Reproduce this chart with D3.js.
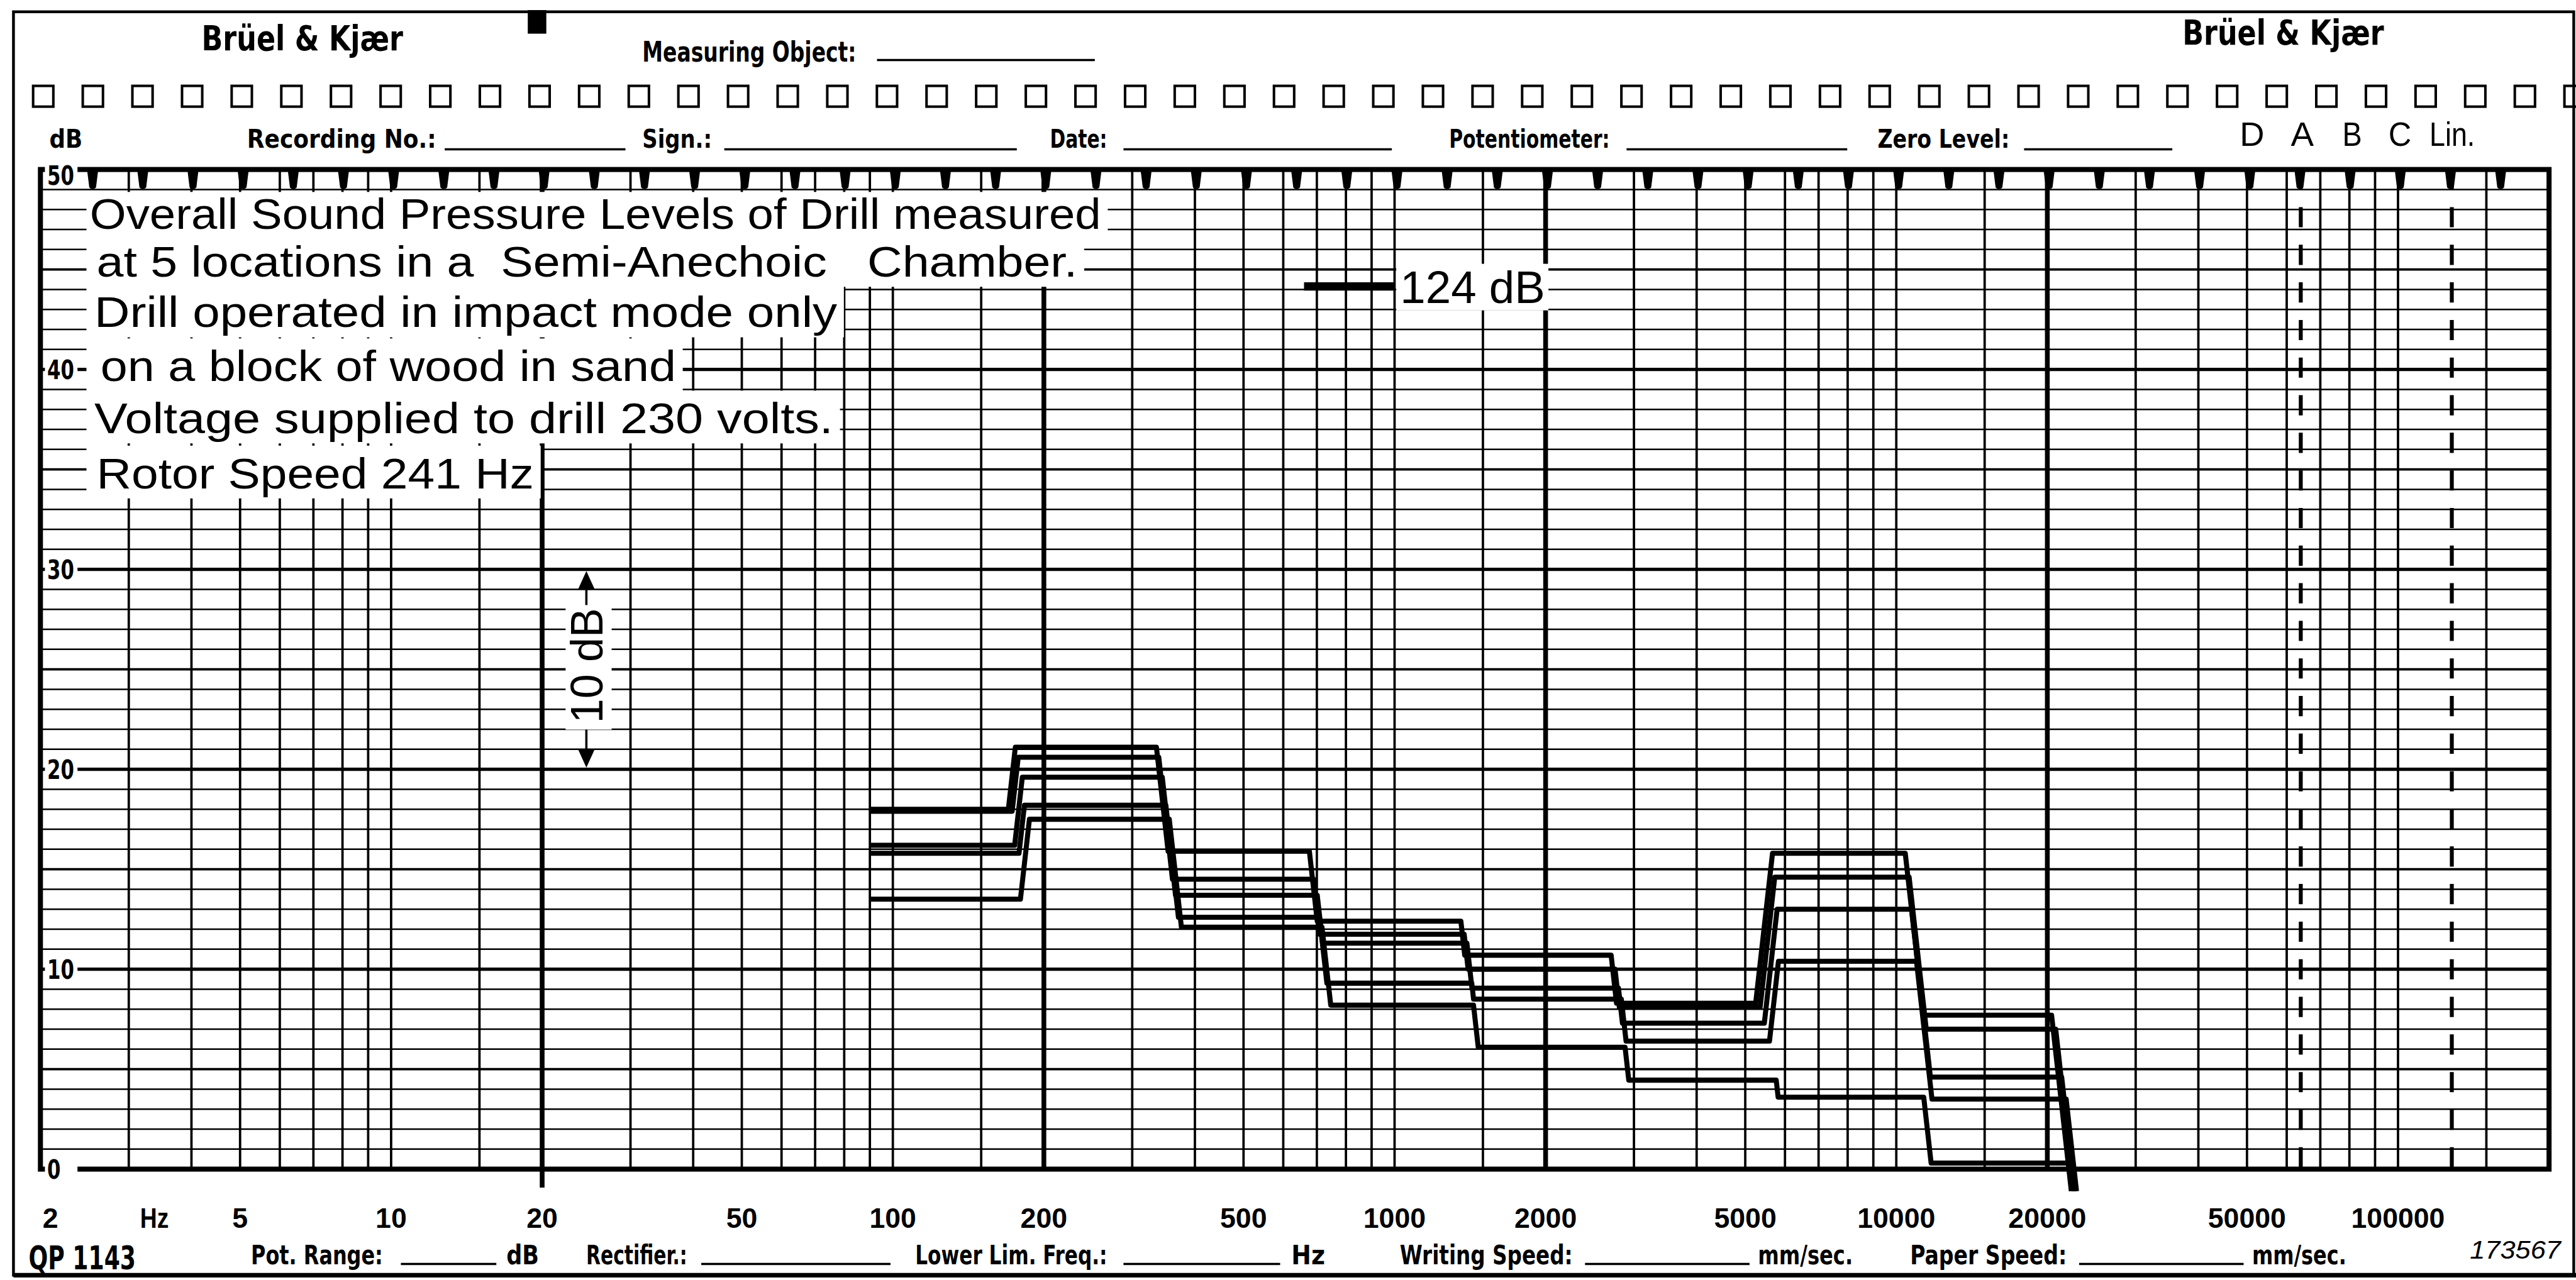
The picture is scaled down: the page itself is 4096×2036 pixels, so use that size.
<!DOCTYPE html>
<html>
<head>
<meta charset="utf-8">
<script src="https://cdn.jsdelivr.net/npm/d3@7"></script>
<style>
html, body { margin: 0; padding: 0; background: #fff; overflow: hidden; }
svg { display: block; }
</style>
</head>
<body>
<svg width="4096" height="2036"></svg>
<script>
// octave band edges (Hz) where the recorder pen steps
var bandEdges = [90, 178, 355, 710, 1410, 2820, 5620, 11200, 22000];
var endLevel = -1.1;

// band levels (dB) at the 5 measuring locations, one value per octave band
var loc1 = [18.0, 21.1, 15.9, 12.4, 10.7, 8.3, 15.8, 7.7];
var loc2 = [17.9, 20.6, 14.5, 11.75, 10.0, 8.1, 14.6, 7.0];
var loc3 = [16.2, 19.6, 13.7, 11.3, 9.05, 7.3, 13.0, 4.6];
var loc4 = [15.8, 18.2, 12.6, 9.3, 8.5, 6.4, 10.4, 3.5];
var loc5 = [13.5, 17.5, 12.1, 8.2, 6.1, 4.45, 3.6, 0.3];

var freqLabels = [2, 5, 10, 20, 50, 100, 200, 500, 1000, 2000, 5000, 10000, 20000, 50000, 100000];
var dbLabels = [0, 10, 20, 30, 40, 50];
var weightingMarks = [64000, 128000];

var notes = [
  'Overall Sound Pressure Levels of Drill measured',
  'at 5 locations in a  Semi-Anechoic   Chamber.',
  'Drill operated in impact mode only',
  'on a block of wood in sand',
  'Voltage supplied to drill 230 volts.',
  'Rotor Speed 241 Hz'
];
var refLevel = {text: '124 dB', db: 44.15, from: 660, to: 1000};
var rangeArrow = {text: '10 dB', f: 24.5, top: 30, bottom: 20};

// ---- layout (reference pixels, scaled down as a whole) ----
var S = 4096 / 4588;
var svg = d3.select('svg');
svg.append('rect').attr('width', 4096).attr('height', 2036).attr('fill', '#fff');
var g = svg.append('g').attr('transform', 'scale(' + S + ')');

var x = d3.scaleLog().domain([2, 200000]).range([72, 4540]);
var y = d3.scaleLinear().domain([0, 50]).range([2083, 302]);

var SANS = "'Liberation Sans', Arial, sans-serif";
var NARROW = "'Liberation Sans Narrow', 'DejaVu Sans Condensed', 'Liberation Sans', sans-serif";

function txt(s, px, py, size, opt) {
  opt = opt || {};
  var t = g.append('text')
    .attr('x', px).attr('y', py)
    .attr('font-family', opt.family || NARROW)
    .attr('font-size', size)
    .attr('font-weight', opt.weight || 'normal')
    .attr('text-anchor', opt.anchor || 'start')
    .attr('fill', '#000')
    .style('white-space', 'pre')
    .text(s);
  if (opt.w) t.attr('textLength', opt.w).attr('lengthAdjust', 'spacingAndGlyphs');
  if (opt.italic) t.attr('font-style', 'italic');
  return t;
}
function rule(x1, x2, y1, w) {
  g.append('line').attr('x1', x1).attr('x2', x2).attr('y1', y1).attr('y2', y1)
    .attr('stroke', '#000').attr('stroke-width', w || 4);
}
function whiteBox(x1, y1, x2, y2) {
  g.append('rect').attr('x', x1).attr('y', y1).attr('width', x2 - x1).attr('height', y2 - y1).attr('fill', '#fff');
}

// page border
g.append('rect').attr('x', 24).attr('y', 21).attr('width', 4560).attr('height', 2251)
  .attr('fill', 'none').attr('stroke', '#000').attr('stroke-width', 5);
rule(24, 4588, 2272, 8);

// header
txt('Brüel & Kjær', 359, 90, 62, {w: 359, weight: 'bold'});
txt('Brüel & Kjær', 3887, 80, 62, {w: 359, weight: 'bold'});
g.append('rect').attr('x', 940).attr('y', 18).attr('width', 33).attr('height', 42).attr('fill', '#000');
txt('Measuring Object:', 1144, 110, 50, {w: 381, weight: 'bold'});
rule(1562, 1950, 107, 4);

g.selectAll('rect.hole')
  .data(d3.range(52)).enter()
  .append('rect')
  .attr('class', 'hole')
  .attr('x', function(i) { return 59 + 88.4 * i; })
  .attr('y', 153)
  .attr('width', 36).attr('height', 37)
  .attr('fill', 'none').attr('stroke', '#000').attr('stroke-width', 4.5);

var headerFields = [['dB', 88, 59], ['Recording No.:', 440, 337], ['Sign.:', 1144, 124], ['Date:', 1870, 102],
  ['Potentiometer:', 2581, 286], ['Zero Level:', 3344, 235]];
headerFields.forEach(function(h) { txt(h[0], h[1], 263, 46, {w: h[2], weight: 'bold'}); });
[[792, 1114], [1290, 1811], [2001, 2479], [2897, 3290], [3605, 3869]].forEach(function(u) { rule(u[0], u[1], 266, 4); });
var weightLetters = [['D', 3989, 44], ['A', 4080, 41], ['B', 4172, 35], ['C', 4254, 41], ['Lin.', 4327, 81]];
weightLetters.forEach(function(h) { txt(h[0], h[1], 260, 60, {w: h[2], family: SANS}); });

// grid
var vLines = [];
[1, 10, 100, 1000, 10000, 100000].forEach(function(p) {
  [1, 1.5, 2, 3, 4, 5, 6, 7, 8, 9].forEach(function(m) {
    var f = m * p;
    if (f > 2 && f < 200000) vLines.push({f: f, thick: m === 2});
  });
});
g.selectAll('line.hgrid')
  .data(d3.range(1, 50)).enter()
  .append('line')
  .attr('class', 'hgrid')
  .attr('x1', x(2)).attr('x2', x(200000))
  .attr('y1', function(d) { return y(d); })
  .attr('y2', function(d) { return y(d); })
  .attr('stroke', '#000')
  .attr('stroke-width', function(d) { return d % 10 === 0 ? 6 : (d % 5 === 0 ? 4.2 : 2.8); });
g.selectAll('line.vgrid')
  .data(vLines).enter()
  .append('line')
  .attr('class', 'vgrid')
  .attr('x1', function(d) { return x(d.f); })
  .attr('x2', function(d) { return x(d.f); })
  .attr('y1', y(50))
  .attr('y2', function(d) { return d.f === 20 ? 2116 : y(0); })
  .attr('stroke', '#000')
  .attr('stroke-width', function(d) { return d.thick ? 8.5 : 4.2; });

g.selectAll('line.wmark')
  .data(weightingMarks).enter()
  .append('line')
  .attr('x1', function(d) { return x(d); })
  .attr('x2', function(d) { return x(d); })
  .attr('y1', y(50)).attr('y2', y(0))
  .attr('stroke', '#000').attr('stroke-width', 7)
  .attr('stroke-dasharray', '36,31');

// plot frame
g.append('rect').attr('x', x(2)).attr('y', y(50)).attr('width', x(200000) - x(2)).attr('height', y(0) - y(50))
  .attr('fill', 'none').attr('stroke', '#000').attr('stroke-width', 9);

// sprocket ticks along the top edge
g.selectAll('path.tick')
  .data(d3.range(49)).enter()
  .append('path')
  .attr('d', function(i) {
    var c = 165 + 89.35 * i, t = y(50);
    return 'M' + (c - 10) + ',' + t + 'L' + (c + 10) + ',' + t + 'L' + (c + 6) + ',' + (t + 32) +
      'Q' + c + ',' + (t + 38) + ' ' + (c - 6) + ',' + (t + 32) + 'Z';
  })
  .attr('fill', '#000');

// dB labels on the left edge
dbLabels.forEach(function(d) {
  var cy = d === 50 ? y(d) + 10 : y(d);
  whiteBox(80, cy - 22, 138, cy + 21);
  txt(String(d), 84, cy + 17, 48, {weight: 'bold', family: NARROW, w: d === 0 ? 24 : 48});
});

// notes pasted on the chart
var noteX = [160, 172, 168, 179, 168, 172];
var noteEnd = [1961, 1919, 1491, 1204, 1484, 951];
var noteBase = [408, 493, 583, 679, 772, 870];
notes.forEach(function(n, i) {
  whiteBox(154, Math.max(noteBase[i] - 76, 342), noteEnd[i] + 12, noteBase[i] + 18);
});
notes.forEach(function(n, i) {
  txt(n, noteX[i], noteBase[i], 76, {w: noteEnd[i] - noteX[i], family: SANS});
});

// 124 dB reference level marker
g.append('line')
  .attr('x1', x(refLevel.from)).attr('x2', x(refLevel.to))
  .attr('y1', y(refLevel.db)).attr('y2', y(refLevel.db))
  .attr('stroke', '#000').attr('stroke-width', 15);
whiteBox(x(refLevel.to) + 3, 470, x(refLevel.to) + 274, 553);
txt(refLevel.text, x(refLevel.to) + 10, y(refLevel.db) + 30, 80, {w: 258, family: SANS});

// 10 dB range arrow
var ax = x(rangeArrow.f);
whiteBox(ax - 37, 1080, ax + 45, 1300);
g.append('line').attr('x1', ax).attr('x2', ax).attr('y1', y(rangeArrow.top) + 30).attr('y2', 1078)
  .attr('stroke', '#000').attr('stroke-width', 4);
g.append('line').attr('x1', ax).attr('x2', ax).attr('y1', 1300).attr('y2', y(rangeArrow.bottom) - 30)
  .attr('stroke', '#000').attr('stroke-width', 4);
g.append('path')
  .attr('d', 'M' + ax + ',' + (y(rangeArrow.top) + 3) + 'L' + (ax + 15) + ',' + (y(rangeArrow.top) + 36) + 'L' + (ax - 15) + ',' + (y(rangeArrow.top) + 36) + 'Z')
  .attr('fill', '#000');
g.append('path')
  .attr('d', 'M' + ax + ',' + (y(rangeArrow.bottom) - 3) + 'L' + (ax + 15) + ',' + (y(rangeArrow.bottom) - 36) + 'L' + (ax - 15) + ',' + (y(rangeArrow.bottom) - 36) + 'Z')
  .attr('fill', '#000');
g.append('text')
  .attr('transform', 'translate(' + (ax + 29) + ',' + 1186 + ') rotate(-90)')
  .attr('text-anchor', 'middle')
  .attr('font-family', SANS).attr('font-size', 80)
  .attr('textLength', 205).attr('lengthAdjust', 'spacingAndGlyphs')
  .text(rangeArrow.text);

// the five recorded curves
var locations = [loc1, loc2, loc3, loc4, loc5];
var slant = 4;
var pen = d3.line();
locations.forEach(function(levels, i) {
  var shift = 1 + (i - 2) * 0.015;
  var pts = [[x(bandEdges[0]), y(levels[0])]];
  for (var k = 1; k <= levels.length; k++) {
    var a = levels[k - 1];
    var b = k < levels.length ? levels[k] : endLevel;
    var ex = x(bandEdges[k] * shift);
    var d = Math.abs(a - b) * slant / 2;
    pts.push([ex - d, y(a)]);
    pts.push([ex + d, y(b)]);
  }
  g.append('path')
    .attr('d', pen(pts))
    .attr('fill', 'none')
    .attr('stroke', '#000')
    .attr('stroke-width', 9)
    .attr('stroke-linejoin', 'round');
});

// frequency labels
freqLabels.forEach(function(f) {
  var s = String(f);
  txt(s, f === 2 ? 76 : x(f), 2188, 50, {weight: 'bold', family: SANS, anchor: f === 2 ? 'start' : 'middle'});
});
txt('Hz', 275, 2188, 50, {weight: 'bold', family: SANS, anchor: 'middle', w: 51});

// footer
txt('QP 1143', 51, 2262, 58, {w: 191, weight: 'bold'});
var footFields = [['Pot. Range:', 447, 235], ['dB', 902, 58], ['Rectifier.:', 1044, 180], ['Lower Lim. Freq.:', 1630, 342],
  ['Hz', 2300, 60], ['Writing Speed:', 2493, 308], ['mm/sec.', 3131, 169], ['Paper Speed:', 3402, 279], ['mm/sec.', 4011, 168]];
footFields.forEach(function(h) { txt(h[0], h[1], 2253, 48, {w: h[2], weight: 'bold'}); });
[[714, 884], [1249, 1586], [2001, 2280], [2823, 3116], [3703, 3996]].forEach(function(u) { rule(u[0], u[1], 2252, 4); });
txt('173567', 4399, 2243, 46, {w: 162, italic: true, family: SANS});
</script>
</body>
</html>
